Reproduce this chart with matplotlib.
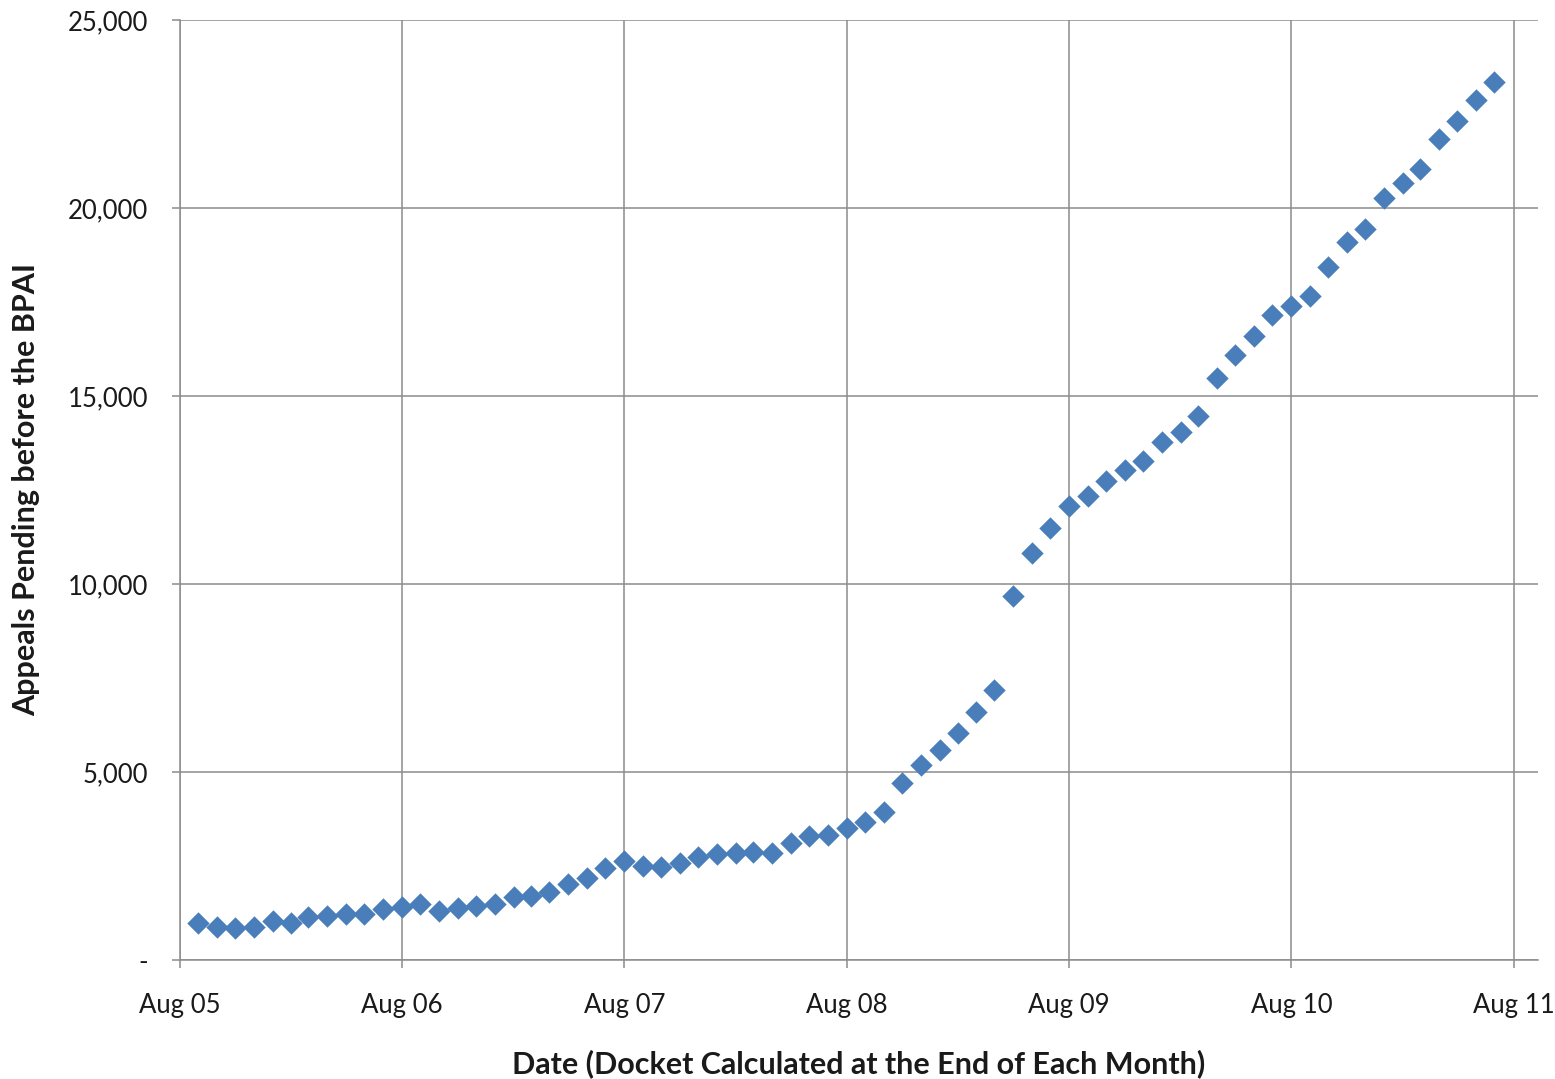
import pandas as pd
import matplotlib.pyplot as plt
import matplotlib.dates as mdates
from matplotlib.ticker import FuncFormatter

plt.rcParams['font.family'] = ['Lato', 'DejaVu Sans']

# month-end docket size, Aug 2005 through Jun 2011
pending = [
    984, 878, 851, 878, 1037, 984, 1144, 1170, 1223, 1223, 1356, 1410,
    1489, 1303, 1383, 1436, 1489, 1676, 1702, 1809, 2021, 2181, 2447, 2633,
    2500, 2473, 2580, 2739, 2819, 2846, 2872, 2846, 3112, 3298, 3324, 3511,
    3670, 3936, 4707, 5186, 5585, 6037, 6596, 7181, 9681, 10825, 11489, 12075,
    12340, 12739, 13032, 13271, 13777, 14043, 14468, 15479, 16090, 16596, 17154, 17394,
    17660, 18431, 19096, 19442, 20266, 20665, 21037, 21835, 22314, 22872, 23351,
]
dates = pd.date_range('2005-08-31', periods=len(pending), freq=pd.offsets.MonthEnd())
year_ticks = pd.date_range('2005-08-01', '2011-08-01', freq=pd.DateOffset(years=1))

fig = plt.figure(figsize=(15.55, 10.79), dpi=100)
ax = fig.add_axes([0.1158, 0.1103, 0.8732, 0.8712])

ax.scatter(dates, pending, marker='D', s=130, color='#4a7ebb', zorder=3, linewidths=0)

ax.set_xlim(pd.Timestamp('2005-08-01'), pd.Timestamp('2011-09-10'))
ax.set_ylim(0, 25000)
ax.set_xticks(year_ticks)
ax.xaxis.set_major_formatter(mdates.DateFormatter('%b %y'))
ax.set_yticks(range(0, 25001, 5000))
ax.yaxis.set_major_formatter(FuncFormatter(lambda v, p: '-' if v == 0 else f'{v:,.0f}'))

ax.grid(True, color='#8c8c8c', linewidth=1.1)
ax.set_axisbelow(True)
for s in ['top', 'right']:
    ax.spines[s].set_visible(False)
for s in ['left', 'bottom']:
    ax.spines[s].set_color('#8c8c8c')
    ax.spines[s].set_linewidth(1.1)

ax.tick_params(axis='both', direction='out', length=6, width=1.1, color='#8c8c8c',
               labelsize=18.5, labelcolor='#1a1a1a')
ax.tick_params(axis='x', pad=18)
ax.tick_params(axis='y', pad=17)

ax.set_xlabel('Date (Docket Calculated at the End of Each Month)', fontsize=22,
              fontweight='bold', color='#1a1a1a', labelpad=22)
ax.set_ylabel('Appeals Pending before the BPAI', fontsize=22,
              fontweight='bold', color='#1a1a1a', labelpad=20)

plt.savefig('out.png', dpi=100)
